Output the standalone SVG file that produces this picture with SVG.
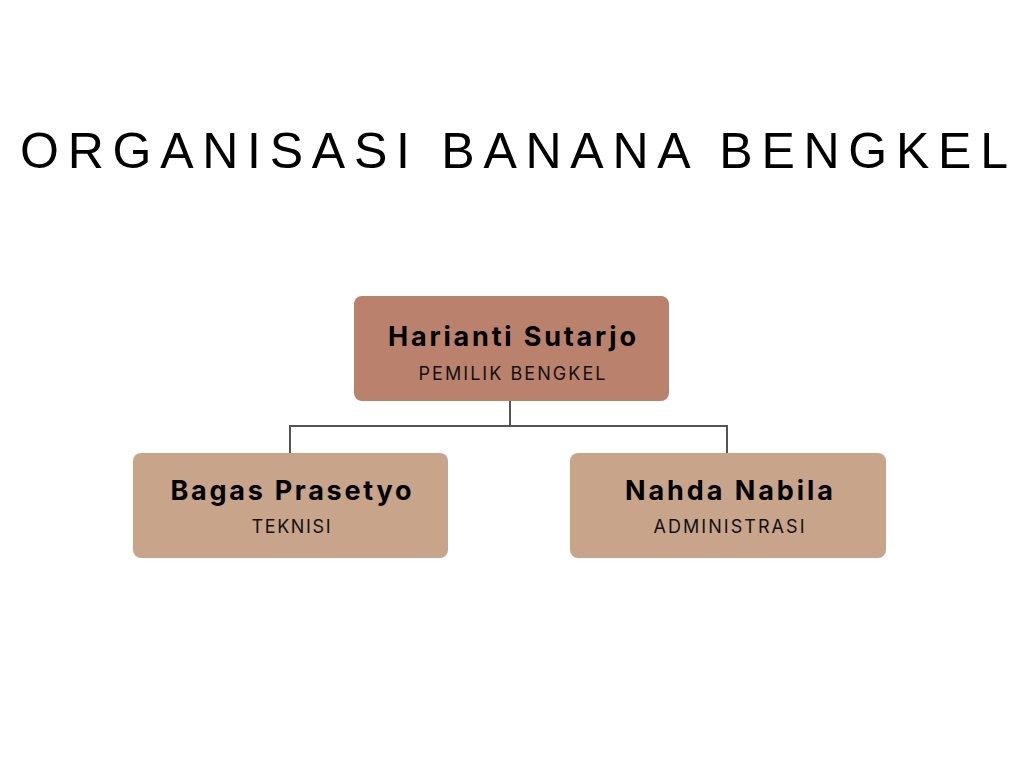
<svg xmlns="http://www.w3.org/2000/svg" width="1024" height="768" viewBox="0 0 1024 768">
<style>
.title{font-family:"Liberation Sans",Arial,sans-serif;font-size:50px;fill:#000;}
.name{font-family:"Inter","Liberation Sans",sans-serif;font-weight:bold;font-size:27px;fill:#000;text-anchor:middle;}
.role{font-family:"Inter","Liberation Sans",sans-serif;font-size:18px;fill:#111;text-anchor:middle;}
.top{fill:#BA826C;}
.sub{fill:#C8A48B;}
.conn{fill:none;stroke:#555;stroke-width:2;}
</style>
<rect width="1024" height="768" fill="#fff"/>
<text class="title" x="20" y="168" textLength="988" lengthAdjust="spacing">ORGANISASI BANANA BENGKEL</text>
<g id="connectors">
<path class="conn" d="M510 401 V426 M290 453 V426 H727 V453"/>
</g>
<g id="node-harianti">
<rect class="top" x="354" y="296" width="315" height="105" rx="8"/>
<text class="name" x="512" y="346" textLength="248" lengthAdjust="spacing">Harianti Sutarjo</text>
<text class="role" x="512" y="380" textLength="187" lengthAdjust="spacing">PEMILIK BENGKEL</text>
</g>
<g id="node-bagas">
<rect class="sub" x="133" y="453" width="315" height="105" rx="8"/>
<text class="name" x="291" y="500" textLength="241" lengthAdjust="spacing">Bagas Prasetyo</text>
<text class="role" x="291" y="533" textLength="79" lengthAdjust="spacing">TEKNISI</text>
</g>
<g id="node-nahda">
<rect class="sub" x="570" y="453" width="316" height="105" rx="8"/>
<text class="name" x="729" y="500" textLength="208" lengthAdjust="spacing">Nahda Nabila</text>
<text class="role" x="729" y="533" textLength="151" lengthAdjust="spacing">ADMINISTRASI</text>
</g>
</svg>
